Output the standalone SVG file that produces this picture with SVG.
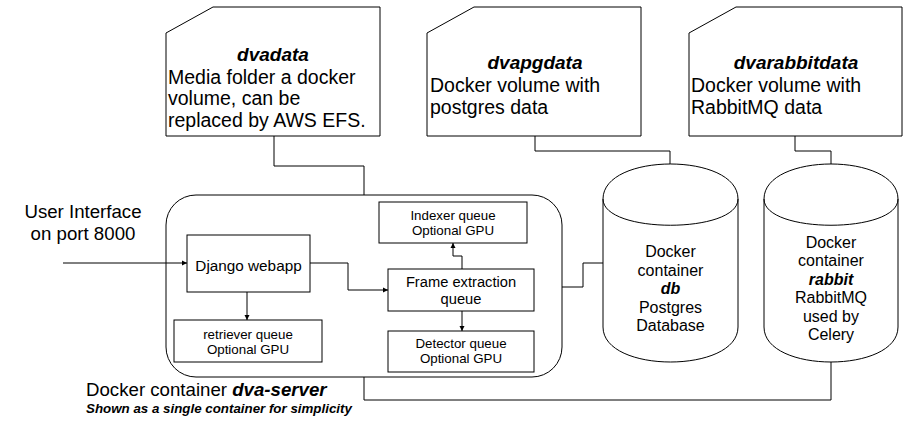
<svg xmlns="http://www.w3.org/2000/svg" width="914" height="421" viewBox="0 0 914 421">
<style>
.s{fill:#fff;stroke:#000;stroke-width:1}
.c{fill:none;stroke:#000;stroke-width:1}
text{font-family:"Liberation Sans",Arial,sans-serif;fill:#000}
.big{font-size:19.5px}
.tt{font-size:19px;font-weight:bold;font-style:italic}
.lab{font-size:18.67px}
.q{font-size:13.33px;text-anchor:middle}
.cy{font-size:16px;text-anchor:middle}
.bi{font-weight:bold;font-style:italic}
.m{text-anchor:middle}
</style>
<defs>
<marker id="ah" markerWidth="6" markerHeight="6" refX="5" refY="3" orient="auto" markerUnits="userSpaceOnUse">
<path d="M0,0.5 L5,3 L0,5.5 Z" fill="#000"/>
</marker>
</defs>
<rect width="914" height="421" fill="#fff"/>

<g id="dva-server">
<rect class="s" x="166" y="195" width="396" height="182" rx="30" ry="30"/>
<text class="lab" x="86" y="396">Docker container <tspan class="bi">dva-server</tspan></text>
<text class="bi" x="86" y="413" style="font-size:13.33px">Shown as a single container for simplicity</text>
</g>

<g id="dvadata">
<path class="s" d="M166,33 L213,7 H380 V136 H166 Z"/>
<text class="tt m" x="273" y="60.5">dvadata</text>
<text class="big" x="168" y="83.5">Media folder a docker</text>
<text class="big" x="168" y="105">volume, can be</text>
<text class="big" x="168" y="126.5">replaced by AWS EFS.</text>
</g>

<g id="dvapgdata">
<path class="s" d="M427,33 L474,7 H641 V136 H427 Z"/>
<text class="tt m" x="535" y="69">dvapgdata</text>
<text class="big" x="430" y="92">Docker volume with</text>
<text class="big" x="430" y="113.5">postgres data</text>
</g>

<g id="dvarabbitdata">
<path class="s" d="M689,33 L736,7 H902 V136 H689 Z"/>
<text class="tt m" x="796" y="69">dvarabbitdata</text>
<text class="big" x="691" y="92">Docker volume with</text>
<text class="big" x="691" y="113.5">RabbitMQ data</text>
</g>

<g id="user-interface">
<text class="lab m" x="83" y="218">User Interface</text>
<text class="lab m" x="83" y="240">on port 8000</text>
</g>

<g id="django">
<rect class="s" x="187" y="235" width="123" height="57"/>
<text class="m" x="248.5" y="271" style="font-size:15.3px">Django webapp</text>
</g>

<g id="retriever">
<rect class="s" x="174" y="320" width="148" height="42"/>
<text class="q" x="248" y="339">retriever queue</text>
<text class="q" x="248" y="354">Optional GPU</text>
</g>

<g id="indexer">
<rect class="s" x="379" y="202" width="148" height="41"/>
<text class="q" x="453" y="220">Indexer queue</text>
<text class="q" x="453" y="235">Optional GPU</text>
</g>

<g id="frame-extraction">
<rect class="s" x="388" y="269" width="146" height="42"/>
<text class="m" x="461" y="287" style="font-size:14.7px">Frame extraction</text>
<text class="m" x="461" y="304" style="font-size:14.7px">queue</text>
</g>

<g id="detector">
<rect class="s" x="388" y="331" width="146" height="41"/>
<text class="q" x="461" y="348">Detector queue</text>
<text class="q" x="461" y="363">Optional GPU</text>
</g>

<g id="db">
<path class="s" d="M603,199 C603,152.33 738,152.33 738,199 V327 C738,373.67 603,373.67 603,327 Z"/>
<path class="c" d="M603,199 C603,234 738,234 738,199"/>
<text class="cy" x="670.5" y="257">Docker</text>
<text class="cy" x="670.5" y="275.5">container</text>
<text class="cy bi" x="670.5" y="294">db</text>
<text class="cy" x="670.5" y="312.5">Postgres</text>
<text class="cy" x="670.5" y="331">Database</text>
</g>

<g id="rabbit">
<path class="s" d="M764,199 C764,152.33 898,152.33 898,199 V327 C898,373.67 764,373.67 764,327 Z"/>
<path class="c" d="M764,199 C764,234 898,234 898,199"/>
<text class="cy" x="831" y="247.5">Docker</text>
<text class="cy" x="831" y="266">container</text>
<text class="cy bi" x="831" y="284.5">rabbit</text>
<text class="cy" x="831" y="303">RabbitMQ</text>
<text class="cy" x="831" y="321.5">used by</text>
<text class="cy" x="831" y="340">Celery</text>
</g>

<g id="connectors">
<path class="c" d="M274,136 V166 H364 V195"/>
<path class="c" d="M535,136 V151 H670 V164"/>
<path class="c" d="M795,136 V151 H831 V164"/>
<path class="c" d="M562,287 H583 V263 H603"/>
<path class="c" d="M364,377 V400 H831 V362"/>
<path class="c" d="M63,263 H187" marker-end="url(#ah)"/>
<path class="c" d="M247,292 V320" marker-end="url(#ah)"/>
<path class="c" d="M310,263 H348 V290 H388" marker-end="url(#ah)"/>
<path class="c" d="M462,269 V256 H453 V243" marker-end="url(#ah)"/>
<path class="c" d="M462,311 V331" marker-end="url(#ah)"/>
</g>
</svg>
